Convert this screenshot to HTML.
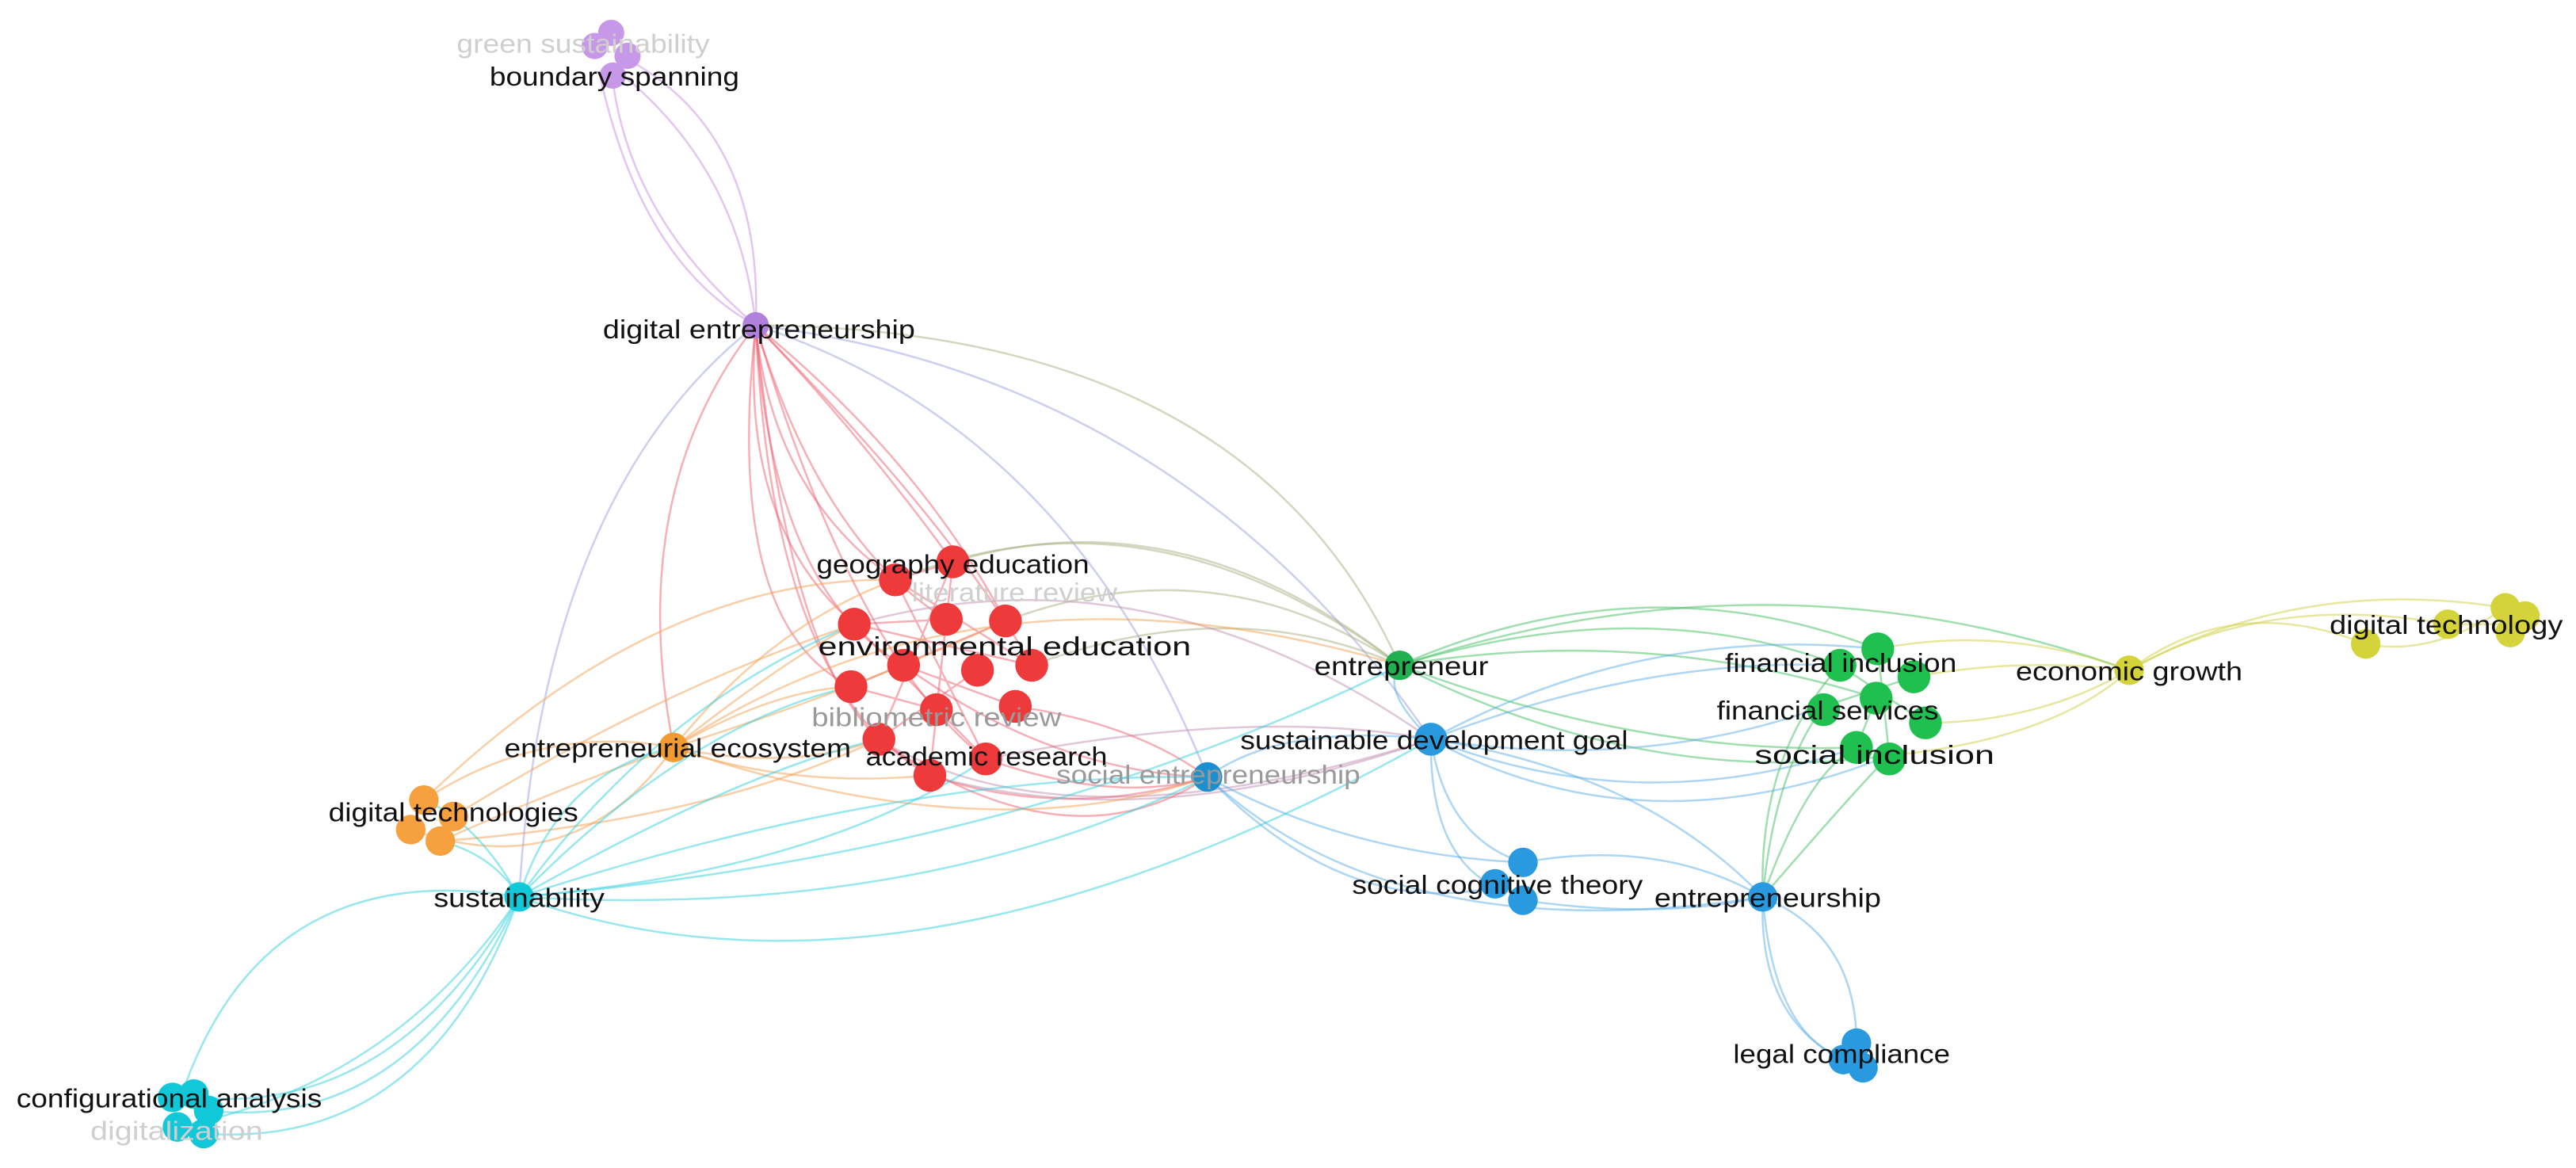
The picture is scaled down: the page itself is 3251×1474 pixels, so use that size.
<!DOCTYPE html>
<html><head><meta charset="utf-8"><style>
html,body{margin:0;padding:0;background:#fff;}
svg{display:block;}
text{font-family:"Liberation Sans",sans-serif;font-size:16px;}
.l{fill:#111;}
.g{fill:#9a9a9a;}
.f{fill:#cfcfcf;}
path{fill:none;stroke-width:1.2;opacity:.5;}
.p{stroke:#c98be6}.r{stroke:#ee6070}.o{stroke:#f4a050}.c{stroke:#2fd0e0}.b{stroke:#5aaee8}.gr{stroke:#40c060}.y{stroke:#cfd040}.v{stroke:#9aa0e0}.gy{stroke:#a8b080}.rb{stroke:#c090b0}
</style></head><body>
<svg width="3251" height="1474" viewBox="0 0 1568 711" preserveAspectRatio="none" xmlns="http://www.w3.org/2000/svg">
<path class="p" d="M372,40 Q380,130 460,198"/>
<path class="p" d="M372,40 Q450,100 460,198"/>
<path class="p" d="M380,35 Q465,80 460,198"/>
<path class="p" d="M365,45 Q390,160 460,198"/>
<path class="r" d="M460,198 Q470,300 545,353"/>
<path class="r" d="M460,198 Q520,260 580,342"/>
<path class="r" d="M460,198 Q450,320 520,380"/>
<path class="r" d="M460,198 Q500,330 576,377"/>
<path class="r" d="M460,198 Q560,280 612,378"/>
<path class="r" d="M460,198 Q470,360 550,405"/>
<path class="r" d="M460,198 Q440,380 518,418"/>
<path class="r" d="M460,198 Q470,420 566,472"/>
<path class="r" d="M460,198 Q580,320 628,405"/>
<path class="r" d="M460,198 Q520,400 600,462"/>
<path class="r" d="M460,198 Q480,400 535,450"/>
<path class="r" d="M460,198 Q380,300 410,455"/>
<path class="v" d="M460,198 Q330,300 316,546"/>
<path class="gy" d="M460,198 Q760,200 852,405"/>
<path class="v" d="M460,198 Q720,230 871,450"/>
<path class="v" d="M460,198 Q650,260 735,473"/>
<path class="r" d="M545,353 L600,462 M580,342 L535,450 M520,380 L628,405 M612,378 L518,418 M576,377 L566,472 M550,405 L618,430 M595,408 L535,450 M545,353 L628,405 M580,342 L570,432 M520,380 L600,462 M545,353 L580,342 M520,380 L576,377 M518,418 L570,432 M535,450 L566,472"/>
<path class="gy" d="M580,342 Q720,300 852,405"/>
<path class="gy" d="M612,378 Q740,330 852,405"/>
<path class="gy" d="M628,405 Q750,360 852,405"/>
<path class="gy" d="M545,353 Q700,290 852,405"/>
<path class="rb" d="M520,380 Q700,330 871,450"/>
<path class="rb" d="M600,462 Q760,430 871,450"/>
<path class="rb" d="M566,472 Q700,510 871,450"/>
<path class="rb" d="M535,450 Q650,520 871,450"/>
<path class="r" d="M566,472 Q650,500 735,473"/>
<path class="r" d="M600,462 Q680,490 735,473"/>
<path class="r" d="M618,430 Q690,440 735,473"/>
<path class="r" d="M550,405 Q640,470 735,473"/>
<path class="r" d="M535,450 Q650,530 735,473"/>
<path class="o" d="M410,455 Q470,380 545,353"/>
<path class="o" d="M410,455 Q480,400 520,380"/>
<path class="o" d="M410,455 Q470,420 518,418"/>
<path class="o" d="M410,455 Q480,480 566,472"/>
<path class="o" d="M410,455 Q480,470 535,450"/>
<path class="o" d="M410,455 Q520,420 612,378"/>
<path class="o" d="M410,455 Q600,330 852,405"/>
<path class="o" d="M410,455 Q600,520 735,473"/>
<path class="o" d="M258,487 Q330,440 410,455"/>
<path class="o" d="M268,512 Q340,480 410,455"/>
<path class="o" d="M250,505 Q350,540 410,455"/>
<path class="o" d="M258,487 Q400,350 545,353"/>
<path class="o" d="M276,497 Q400,420 520,380"/>
<path class="o" d="M268,512 Q430,500 535,450"/>
<path class="c" d="M316,546 Q340,470 410,455"/>
<path class="c" d="M316,546 Q400,430 520,380"/>
<path class="c" d="M316,546 Q420,440 518,418"/>
<path class="c" d="M316,546 Q450,470 535,450"/>
<path class="c" d="M316,546 Q500,530 600,462"/>
<path class="c" d="M316,546 Q550,470 735,473"/>
<path class="c" d="M316,546 Q620,520 852,405"/>
<path class="c" d="M316,546 Q550,630 871,450"/>
<path class="c" d="M316,546 Q560,560 735,473"/>
<path class="c" d="M316,546 Q290,500 258,487"/>
<path class="c" d="M316,546 Q300,520 268,512"/>
<path class="c" d="M316,546 Q160,520 110,668"/>
<path class="c" d="M316,546 Q240,680 118,668"/>
<path class="c" d="M316,546 Q250,690 125,676"/>
<path class="c" d="M316,546 Q260,700 124,690"/>
<path class="c" d="M316,546 Q240,660 108,686"/>
<path class="gr" d="M852,405 Q1000,360 1120,405"/>
<path class="gr" d="M852,405 Q1000,340 1143,395"/>
<path class="gr" d="M852,405 Q1000,380 1142,425"/>
<path class="gr" d="M852,405 Q1000,460 1130,455"/>
<path class="gr" d="M852,405 Q1000,480 1150,460"/>
<path class="gr" d="M852,405 Q1080,330 1296,408"/>
<path class="b" d="M871,450 Q1000,380 1143,395"/>
<path class="b" d="M871,450 Q1000,400 1120,405"/>
<path class="b" d="M871,450 Q1000,470 1110,430"/>
<path class="b" d="M871,450 Q1000,500 1130,455"/>
<path class="b" d="M871,450 Q1000,520 1150,460"/>
<path class="b" d="M871,450 Q880,510 927,525"/>
<path class="b" d="M871,450 Q870,520 910,540"/>
<path class="b" d="M871,450 Q1000,470 1073,546"/>
<path class="b" d="M871,450 Q780,440 735,473"/>
<path class="b" d="M871,450 Q840,420 852,405"/>
<path class="b" d="M735,473 Q820,520 927,525"/>
<path class="b" d="M735,473 Q850,580 1073,546"/>
<path class="b" d="M735,473 Q820,560 910,540"/>
<path class="b" d="M927,525 Q1010,510 1073,546"/>
<path class="b" d="M927,548 Q1010,560 1073,546"/>
<path class="b" d="M1073,546 Q1070,620 1122,645"/>
<path class="b" d="M1073,546 Q1080,640 1135,648"/>
<path class="b" d="M1073,546 Q1130,570 1130,635"/>
<path class="gr" d="M1073,546 Q1080,470 1110,430"/>
<path class="gr" d="M1073,546 Q1100,470 1130,455"/>
<path class="gr" d="M1073,546 Q1130,480 1150,460"/>
<path class="gr" d="M1073,546 Q1070,460 1120,405"/>
<path class="gr" d="M1143,395 L1150,460 M1120,405 L1172,440 M1165,412 L1110,430 M1142,425 L1130,455"/>
<path class="y" d="M1143,395 Q1220,380 1296,408"/>
<path class="y" d="M1172,440 Q1240,440 1296,408"/>
<path class="y" d="M1150,460 Q1250,450 1296,408"/>
<path class="y" d="M1165,412 Q1230,400 1296,408"/>
<path class="y" d="M1296,408 Q1360,360 1440,392"/>
<path class="y" d="M1296,408 Q1380,360 1490,380"/>
<path class="y" d="M1296,408 Q1400,350 1525,370"/>
<path class="y" d="M1440,392 Q1480,400 1525,370"/>
<path class="y" d="M1490,380 Q1510,380 1530,380"/>
<g fill="#c898e8"><circle cx="362" cy="28" r="8"/><circle cx="372" cy="20" r="8"/><circle cx="382" cy="34" r="8"/><circle cx="373" cy="46" r="8"/></g>
<circle cx="460" cy="198" r="8" fill="#b080dc"/>
<g fill="#ee3a3a"><circle cx="545" cy="353" r="10"/><circle cx="580" cy="342" r="10"/><circle cx="612" cy="378" r="10"/><circle cx="520" cy="380" r="10"/><circle cx="576" cy="377" r="10"/><circle cx="550" cy="405" r="10"/><circle cx="595" cy="408" r="10"/><circle cx="628" cy="405" r="10"/><circle cx="518" cy="418" r="10"/><circle cx="570" cy="432" r="10"/><circle cx="618" cy="430" r="10"/><circle cx="535" cy="450" r="10"/><circle cx="566" cy="472" r="10"/><circle cx="600" cy="462" r="10"/></g>
<circle cx="410" cy="455" r="9" fill="#f39a30"/>
<g fill="#f7a040"><circle cx="258" cy="487" r="9"/><circle cx="276" cy="497" r="9"/><circle cx="250" cy="505" r="9"/><circle cx="268" cy="512" r="9"/></g>
<circle cx="316" cy="546" r="9" fill="#10c8d8"/>
<g fill="#10c8d8"><circle cx="105" cy="668" r="9"/><circle cx="118" cy="666" r="9"/><circle cx="127" cy="676" r="9"/><circle cx="108" cy="686" r="9"/><circle cx="124" cy="690" r="9"/></g>
<circle cx="735" cy="473" r="9" fill="#1a90d0"/>
<circle cx="852" cy="405" r="9" fill="#20b050"/>
<circle cx="871" cy="450" r="10" fill="#2a9ae0"/>
<g fill="#2a9ae0"><circle cx="927" cy="525" r="9"/><circle cx="910" cy="538" r="9"/><circle cx="927" cy="548" r="9"/></g>
<circle cx="1073" cy="546" r="9" fill="#2a9ae0"/>
<g fill="#2a9ae0"><circle cx="1130" cy="635" r="9"/><circle cx="1122" cy="645" r="9"/><circle cx="1134" cy="650" r="9"/></g>
<g fill="#20c050"><circle cx="1143" cy="395" r="10"/><circle cx="1120" cy="405" r="10"/><circle cx="1165" cy="412" r="10"/><circle cx="1142" cy="425" r="10"/><circle cx="1172" cy="440" r="10"/><circle cx="1110" cy="432" r="10"/><circle cx="1130" cy="455" r="10"/><circle cx="1150" cy="462" r="10"/></g>
<circle cx="1296" cy="408" r="9" fill="#d4d43a"/>
<g fill="#d4d43a"><circle cx="1440" cy="392" r="9"/><circle cx="1490" cy="380" r="9"/><circle cx="1525" cy="370" r="9"/><circle cx="1537" cy="375" r="9"/><circle cx="1528" cy="385" r="9"/></g>
<text class="f" x="278" y="32" textLength="154" lengthAdjust="spacingAndGlyphs">green sustainability</text>
<text class="l" x="298" y="52" textLength="152" lengthAdjust="spacingAndGlyphs">boundary spanning</text>
<text class="l" x="367" y="206" textLength="190" lengthAdjust="spacingAndGlyphs">digital entrepreneurship</text>
<text class="l" x="497" y="349" textLength="166" lengthAdjust="spacingAndGlyphs">geography education</text>
<text class="f" x="555" y="366" textLength="125" lengthAdjust="spacingAndGlyphs">literature review</text>
<text class="l" x="498" y="399" textLength="227" lengthAdjust="spacingAndGlyphs">environmental education</text>
<text class="g" x="494" y="442" textLength="152" lengthAdjust="spacingAndGlyphs">bibliometric review</text>
<text class="l" x="527" y="466" textLength="147" lengthAdjust="spacingAndGlyphs">academic research</text>
<text class="l" x="307" y="461" textLength="211" lengthAdjust="spacingAndGlyphs">entrepreneurial ecosystem</text>
<text class="l" x="200" y="500" textLength="152" lengthAdjust="spacingAndGlyphs">digital technologies</text>
<text class="l" x="264" y="552" textLength="104" lengthAdjust="spacingAndGlyphs">sustainability</text>
<text class="l" x="10" y="674" textLength="186" lengthAdjust="spacingAndGlyphs">configurational analysis</text>
<text class="f" x="55" y="694" textLength="105" lengthAdjust="spacingAndGlyphs">digitalization</text>
<text class="g" x="643" y="477" textLength="185" lengthAdjust="spacingAndGlyphs">social entrepreneurship</text>
<text class="l" x="800" y="411" textLength="106" lengthAdjust="spacingAndGlyphs">entrepreneur</text>
<text class="l" x="755" y="456" textLength="236" lengthAdjust="spacingAndGlyphs">sustainable development goal</text>
<text class="l" x="823" y="544" textLength="177" lengthAdjust="spacingAndGlyphs">social cognitive theory</text>
<text class="l" x="1007" y="552" textLength="138" lengthAdjust="spacingAndGlyphs">entrepreneurship</text>
<text class="l" x="1055" y="647" textLength="132" lengthAdjust="spacingAndGlyphs">legal compliance</text>
<text class="l" x="1050" y="409" textLength="141" lengthAdjust="spacingAndGlyphs">financial inclusion</text>
<text class="l" x="1045" y="438" textLength="135" lengthAdjust="spacingAndGlyphs">financial services</text>
<text class="l" x="1068" y="465" textLength="146" lengthAdjust="spacingAndGlyphs">social inclusion</text>
<text class="l" x="1227" y="414" textLength="138" lengthAdjust="spacingAndGlyphs">economic growth</text>
<text class="l" x="1418" y="386" textLength="142" lengthAdjust="spacingAndGlyphs">digital technology</text>
</svg>
</body></html>
